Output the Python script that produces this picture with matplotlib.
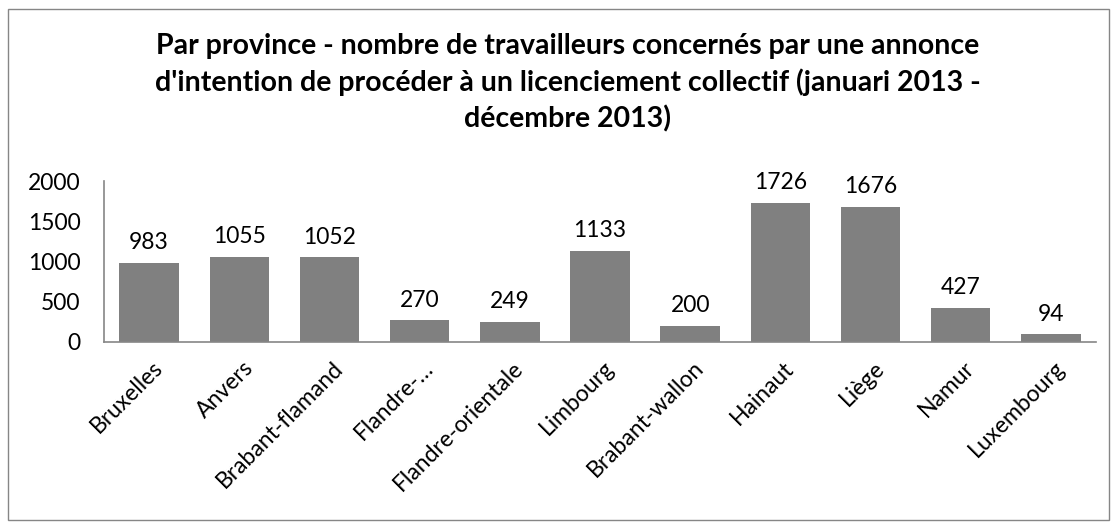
import matplotlib
matplotlib.use("Agg")
import matplotlib.pyplot as plt
from matplotlib.patches import Rectangle
from matplotlib.transforms import ScaledTranslation

categories = ["Bruxelles", "Anvers", "Brabant-flamand", "Flandre-…", "Flandre-orientale",
              "Limbourg", "Brabant-wallon", "Hainaut", "Liège", "Namur", "Luxembourg"]
values = [983, 1055, 1052, 270, 249, 1133, 200, 1726, 1676, 427, 94]
yticks = [0, 500, 1000, 1500, 2000]
title = ("Par province - nombre de travailleurs concernés par une annonce\n"
         "d'intention de procéder à un licenciement collectif (januari 2013 -\n"
         "décembre 2013)")

plt.rcParams['font.family'] = ['Lato', 'DejaVu Sans']

W, H = 1117, 528
fig = plt.figure(figsize=(W/100, H/100), dpi=100)
fig.patches.append(Rectangle((8/W, 8/H), (1109-8)/W, (519-8)/H, transform=fig.transFigure,
                             fill=False, edgecolor='#868686', linewidth=1))

ax = fig.add_axes([104/W, 1-342/H, (1096-104)/W, (342-181)/H])
x = range(len(categories))
bars = ax.bar(x, values, width=0.66, color='#808080')
for xi, v in zip(x, values):
    ax.annotate(str(v), (xi, v), xytext=(0, 7), textcoords='offset points',
                ha='center', va='bottom', fontsize=16.5)

ax.set_xlim(-0.5, len(categories)-0.5)
ax.set_ylim(0, 2000)
ax.set_yticks(yticks)
ax.set_yticklabels([str(t) for t in yticks], fontsize=16.5)
ax.set_xticks(list(x))
ax.set_xticklabels(categories, rotation=45, ha='right', rotation_mode='anchor', fontsize=16.5)
ax.tick_params(axis='y', length=0, pad=17)
ax.tick_params(axis='x', length=0, pad=11)
off = ScaledTranslation(3/100, 0, fig.dpi_scale_trans)
for lab in ax.get_xticklabels():
    lab.set_transform(lab.get_transform() + off)
for s in ['top', 'right']:
    ax.spines[s].set_visible(False)
for s in ['left', 'bottom']:
    ax.spines[s].set_color('#868686')
    ax.spines[s].set_linewidth(1.2)

fig.text(568/W, 1-33/H, title, ha='center', va='top', fontsize=20.5, fontweight='bold',
         linespacing=1.42)

fig.savefig("out.png", dpi=100)
